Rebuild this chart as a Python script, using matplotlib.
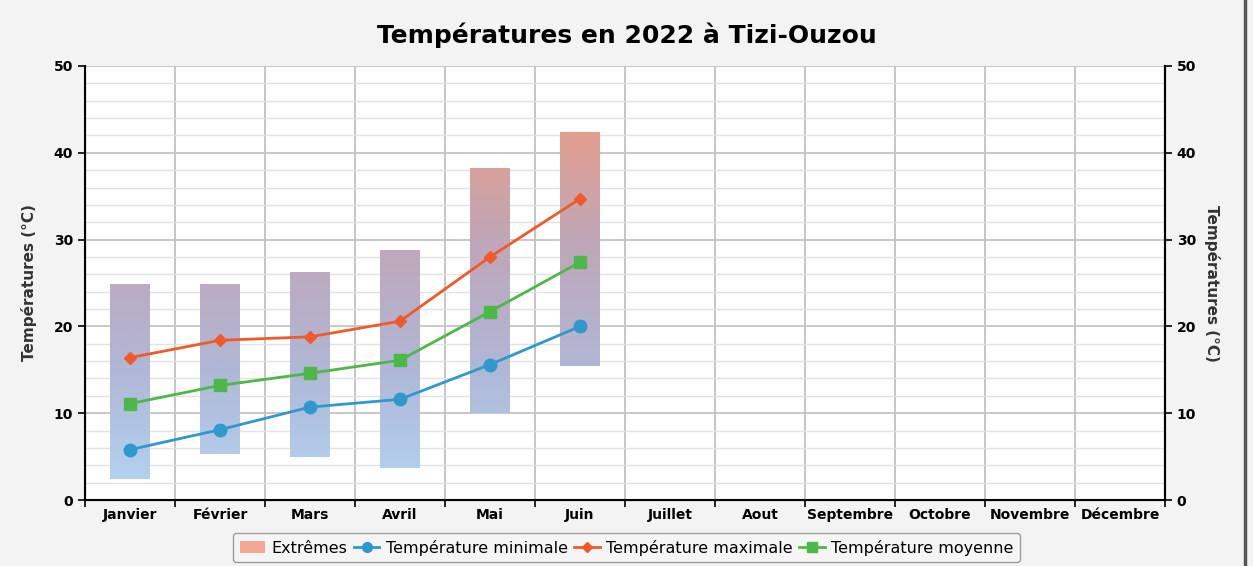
import matplotlib
matplotlib.use("Agg")
from matplotlib import pyplot as plt
from matplotlib.colors import LinearSegmentedColormap, Normalize
from matplotlib.patches import Patch
from matplotlib.lines import Line2D
import numpy as np

months = ["Janvier", "Février", "Mars", "Avril", "Mai", "Juin", "Juillet",
          "Aout", "Septembre", "Octobre", "Novembre", "Décembre"]

# extremes (bars), only the first six months are filled
extreme_low = [2.4, 5.3, 5.0, 3.7, 10.0, 15.4]
extreme_high = [24.8, 24.8, 26.3, 28.7, 38.2, 42.3]

temp_min = [5.8, 8.1, 10.7, 11.6, 15.6, 20.0]
temp_max = [16.4, 18.4, 18.8, 20.6, 28.0, 34.7]
temp_mean = [11.1, 13.2, 14.6, 16.1, 21.7, 27.4]

c_min = "#2f98cc"
c_max = "#f05a28"
c_mean = "#4cb848"

fig = plt.figure(figsize=(12.53, 5.66), dpi=100)
fig.patch.set_facecolor("#f3f3f3")
ax = fig.add_axes([0.0678, 0.1166, 0.862, 0.7668])
ax.set_facecolor("white")

# gradient bars: blue for cold, salmon for hot
cmap = LinearSegmentedColormap.from_list(
    "ext", ["#b2d6f3", "#b0b7d6", "#c0a6b8", "#eb9c85"])
norm = Normalize(0, 45)
x = np.arange(len(extreme_low))
bw = 0.44
for xi, lo, hi in zip(x, extreme_low, extreme_high):
    vals = np.linspace(hi, lo, 200).reshape(-1, 1)
    ax.imshow(vals, cmap=cmap, norm=norm, aspect="auto",
              extent=[xi - bw / 2, xi + bw / 2, lo, hi], zorder=2,
              interpolation="bilinear")

ax.plot(x, temp_min, color=c_min, marker="o", markersize=9, lw=2, zorder=4)
ax.plot(x, temp_max, color=c_max, marker="D", markersize=6.5, lw=2, zorder=4)
ax.plot(x, temp_mean, color=c_mean, marker="s", markersize=9, lw=2, zorder=4)

ax.set_xlim(-0.5, 11.5)
ax.set_ylim(0, 50)

# grid: vertical lines between months, horizontal every 2 degrees
ax.set_xticks(np.arange(-0.5, 12, 1))
ax.set_xticklabels([])
ax.set_xticks(np.arange(12), minor=True)
ax.set_xticklabels(months, minor=True, fontsize=10, fontweight="bold")
ax.tick_params(axis="x", which="minor", length=0, pad=6)
ax.tick_params(axis="x", which="major", length=5, width=1.2, direction="out")
ax.grid(True, axis="x", which="major", color="#c0c0c0", lw=1.3, zorder=1)

ax.set_yticks(np.arange(0, 51, 10))
ax.set_yticks(np.arange(0, 51, 2), minor=True)
ax.grid(True, axis="y", which="major", color="#c4c4c4", lw=1.3, zorder=1)
ax.grid(True, axis="y", which="minor", color="#e2e2e2", lw=1.0, zorder=1)
ax.set_axisbelow(True)
ax.tick_params(axis="y", which="minor", length=0)
ax.tick_params(axis="y", which="major", length=5, width=1.2, labelsize=10)
for lab in ax.get_yticklabels():
    lab.set_fontweight("bold")

ax.spines["top"].set_visible(False)
for side in ["left", "right", "bottom"]:
    ax.spines[side].set_linewidth(1.5)
    ax.spines[side].set_color("black")

ax2 = ax.twinx()
ax2.set_ylim(0, 50)
ax2.set_yticks(np.arange(0, 51, 10))
ax2.tick_params(axis="y", length=5, width=1.2, labelsize=10)
for lab in ax2.get_yticklabels():
    lab.set_fontweight("bold")
ax2.spines["top"].set_visible(False)
ax2.spines["right"].set_linewidth(1.5)

ax.set_ylabel("Températures (°C)", fontsize=11, fontweight="bold", color="#333333", labelpad=12)
ax2.set_ylabel("Températures (°C)", fontsize=11, fontweight="bold", color="#333333",
               rotation=270, labelpad=17)

fig.text(0.5, 0.938, "Températures en 2022 à Tizi-Ouzou", ha="center", va="center",
         fontsize=18, fontweight="bold")

# dark window border on the right
fig.add_artist(Line2D([0.9936, 0.9936], [0, 1], transform=fig.transFigure,
                      color="#555555", lw=2.5))

handles = [
    Patch(facecolor="#f4a792", edgecolor="none", label="Extrêmes"),
    Line2D([], [], color=c_min, marker="o", markersize=7, lw=2, label="Température minimale"),
    Line2D([], [], color=c_max, marker="D", markersize=5, lw=2, label="Température maximale"),
    Line2D([], [], color=c_mean, marker="s", markersize=7, lw=2, label="Température moyenne"),
]
leg = fig.legend(handles=handles, loc="upper center", bbox_to_anchor=(0.5, 0.058),
                 ncol=4, fontsize=11.5, frameon=True, handlelength=1.6,
                 columnspacing=0.4, handletextpad=0.4, fancybox=True,
                 borderaxespad=0)
leg.get_frame().set_edgecolor("#888888")
leg.get_frame().set_facecolor("#f6f6f6")

fig.savefig("out.png", dpi=100, facecolor=fig.get_facecolor())
